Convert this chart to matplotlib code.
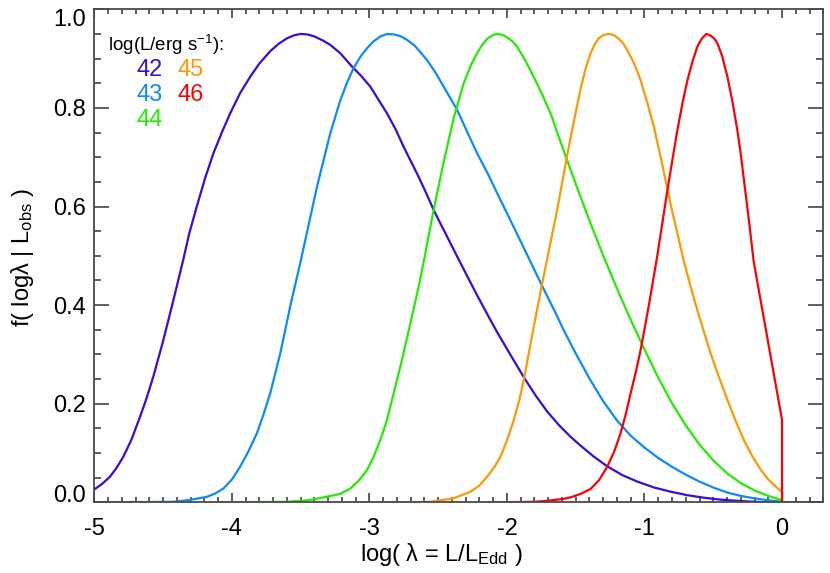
import matplotlib
matplotlib.use("Agg")
import matplotlib.pyplot as plt

plt.rcParams['font.family'] = ['Liberation Sans', 'DejaVu Sans']
plt.rcParams['mathtext.fontset'] = 'custom'
plt.rcParams['mathtext.rm'] = 'Liberation Sans'
plt.rcParams['mathtext.it'] = 'Liberation Sans:italic'
plt.rcParams['axes.unicode_minus'] = False

# log(L/erg s^-1) values of the curves
lum_labels = ['42', '43', '44', '45', '46']
colors = ['#3a0ade', '#0a8cff', '#22ee00', '#ff9900', '#ff0000']

# curves: x = log(lambda), y = f(log lambda | L_obs)
x42 = [-5.0, -4.94, -4.886, -4.84, -4.789, -4.73, -4.667, -4.62, -4.571, -4.498,
       -4.425, -4.355, -4.31, -4.255, -4.195, -4.134, -4.07, -4.012, -3.94, -3.867,
       -3.80, -3.721, -3.66, -3.60, -3.55, -3.50, -3.45, -3.40, -3.34, -3.285,
       -3.212, -3.127, -3.06, -2.993, -2.872, -2.81, -2.751, -2.654, -2.59, -2.533,
       -2.49, -2.435, -2.35, -2.28, -2.217, -2.14, -2.071, -1.97, -1.878, -1.79,
       -1.707, -1.62, -1.538, -1.465, -1.37, -1.271, -1.16, -1.052, -0.93, -0.810,
       -0.69, -0.568, -0.45, -0.325, -0.2, -0.106]
y42 = [0.026, 0.038, 0.052, 0.069, 0.0925, 0.127, 0.174, 0.211, 0.255, 0.329,
       0.410, 0.490, 0.545, 0.600, 0.657, 0.708, 0.752, 0.789, 0.830, 0.863,
       0.890, 0.915, 0.930, 0.941, 0.947, 0.950, 0.949, 0.945, 0.937, 0.928,
       0.911, 0.884, 0.865, 0.843, 0.789, 0.757, 0.721, 0.667, 0.629, 0.593,
       0.569, 0.539, 0.492, 0.454, 0.420, 0.380, 0.345, 0.297, 0.254, 0.216,
       0.184, 0.156, 0.133, 0.115, 0.093, 0.073, 0.055, 0.042, 0.030, 0.0215,
       0.0145, 0.0093, 0.0055, 0.003, 0.001, 0.0]

x43 = [-5.0, -4.425, -4.303, -4.182, -4.12, -4.061, -4.00, -3.940, -3.88, -3.818,
       -3.77, -3.721, -3.648, -3.576, -3.503, -3.44, -3.381, -3.285, -3.212, -3.16,
       -3.115, -3.06, -3.017, -2.97, -2.92, -2.872, -2.82, -2.77, -2.726, -2.67,
       -2.62, -2.581, -2.52, -2.460, -2.362, -2.29, -2.217, -2.14, -2.071, -1.950,
       -1.829, -1.732, -1.65, -1.587, -1.50, -1.40, -1.30, -1.20, -1.10, -1.00,
       -0.90, -0.80, -0.70, -0.60, -0.50, -0.40, -0.30, -0.20, -0.10, 0.0]
y43 = [0.0, 0.001, 0.005, 0.011, 0.018, 0.028, 0.046, 0.072, 0.103, 0.140,
       0.178, 0.221, 0.302, 0.397, 0.485, 0.565, 0.640, 0.748, 0.815, 0.853,
       0.881, 0.906, 0.921, 0.935, 0.945, 0.950, 0.949, 0.945, 0.938, 0.926,
       0.910, 0.897, 0.872, 0.843, 0.796, 0.752, 0.708, 0.667, 0.627, 0.558,
       0.488, 0.432, 0.386, 0.349, 0.302, 0.251, 0.205, 0.166, 0.135, 0.111,
       0.090, 0.072, 0.056, 0.042, 0.030, 0.020, 0.013, 0.008, 0.004, 0.001]

x44 = [-4.1, -3.6, -3.45, -3.333, -3.212, -3.139, -3.08, -3.017, -2.97, -2.921,
       -2.88, -2.848, -2.775, -2.702, -2.642, -2.599, -2.533, -2.460, -2.387, -2.314,
       -2.26, -2.217, -2.18, -2.14, -2.10, -2.071, -2.03, -2.00, -1.96, -1.926,
       -1.87, -1.805, -1.74, -1.683, -1.60, -1.50, -1.40, -1.30, -1.20, -1.10,
       -1.00, -0.90, -0.80, -0.70, -0.60, -0.50, -0.40, -0.30, -0.20, -0.10,
       0.0]
y44 = [0.0, 0.001, 0.004, 0.010, 0.017, 0.028, 0.043, 0.0655, 0.092, 0.126,
       0.160, 0.194, 0.275, 0.363, 0.437, 0.497, 0.593, 0.690, 0.780, 0.850,
       0.888, 0.911, 0.928, 0.941, 0.948, 0.950, 0.948, 0.943, 0.935, 0.924,
       0.898, 0.863, 0.825, 0.789, 0.723, 0.646, 0.5715, 0.5005, 0.4335, 0.370,
       0.310, 0.253, 0.201, 0.156, 0.117, 0.085, 0.059, 0.039, 0.024, 0.013,
       0.004]

x45 = [-3.1, -2.7, -2.557, -2.387, -2.266, -2.20, -2.144, -2.09, -2.047, -2.00,
       -1.950, -1.91, -1.878, -1.805, -1.744, -1.707, -1.635, -1.562, -1.538, -1.465,
       -1.43, -1.392, -1.36, -1.33, -1.295, -1.259, -1.225, -1.19, -1.155, -1.125,
       -1.075, -1.028, -0.98, -0.932, -0.88, -0.834, -0.80, -0.761, -0.713, -0.665,
       -0.616, -0.567, -0.519, -0.46, -0.397, -0.337, -0.277, -0.215, -0.155, -0.105,
       -0.058, -0.025, 0.0, 0.0]
y45 = [0.0, 0.0, 0.001, 0.008, 0.0215, 0.034, 0.052, 0.072, 0.0925, 0.125,
       0.167, 0.207, 0.248, 0.356, 0.444, 0.494, 0.593, 0.704, 0.739, 0.838,
       0.878, 0.911, 0.930, 0.942, 0.948, 0.950, 0.948, 0.941, 0.931, 0.917,
       0.890, 0.856, 0.811, 0.762, 0.697, 0.636, 0.592, 0.546, 0.488, 0.438,
       0.390, 0.345, 0.302, 0.255, 0.2075, 0.165, 0.126, 0.093, 0.066, 0.048,
       0.035, 0.027, 0.0215, 0.0]

x46 = [-2.1, -1.8, -1.707, -1.587, -1.538, -1.465, -1.392, -1.33, -1.271, -1.22,
       -1.174, -1.135, -1.101, -1.06, -1.028, -0.968, -0.907, -0.834, -0.761, -0.72,
       -0.688, -0.65, -0.616, -0.585, -0.550, -0.515, -0.49, -0.470, -0.435, -0.397,
       -0.36, -0.325, -0.30, -0.277, -0.24, -0.206, 0.0, 0.0, 0.3]
y46 = [0.0, 0.001, 0.003, 0.007, 0.010, 0.017, 0.027, 0.045, 0.072, 0.103,
       0.140, 0.180, 0.221, 0.268, 0.309, 0.400, 0.500, 0.632, 0.755, 0.815,
       0.856, 0.895, 0.924, 0.940, 0.950, 0.946, 0.940, 0.931, 0.905, 0.863,
       0.812, 0.755, 0.706, 0.654, 0.570, 0.488, 0.167, 0.0, 0.0]

xs = [x42, x43, x44, x45, x46]
ys = [y42, y43, y44, y45, y46]

fig = plt.figure(figsize=(8.3, 5.73), dpi=100)
ax = fig.add_axes([94.3 / 830, 1 - 502.3 / 573, 729 / 830, 493 / 573])

for i in range(len(xs)):
    ax.plot(xs[i], ys[i], color=colors[i], lw=1.6, solid_joinstyle='round',
            solid_capstyle='butt')

ax.set_xlim(-5, 0.3)
ax.set_ylim(0, 1)
ax.set_xticks([-5, -4, -3, -2, -1, 0])
ax.set_xticks([v / 10 for v in range(-50, 4)], minor=True)
ax.set_yticks([0.0, 0.2, 0.4, 0.6, 0.8, 1.0])
ax.set_yticklabels(['0.0', '0.2', '0.4', '0.6', '0.8', '1.0'])
ax.set_yticks([v / 20 for v in range(0, 21)], minor=True)

# like the original, the end labels of the y axis sit inside the frame
ylabs = ax.get_yticklabels()
ylabs[0].set_va('baseline')
ylabs[-1].set_va('top')

for s in ax.spines.values():
    s.set_color('#4a4a4a')
    s.set_linewidth(1.3)

ax.tick_params(which='both', direction='in', top=True, right=True, bottom=True, left=True,
               colors='#333333', labelsize=17, labelcolor='black')
ax.tick_params(axis='x', which='major', length=6.8, width=1.1, pad=11)
ax.tick_params(axis='x', which='minor', length=3.3, width=1.1)
ax.tick_params(axis='y', which='major', length=10.5, width=1.1, pad=6)
ax.tick_params(axis='y', which='minor', length=5.0, width=1.1)

fig.text(441 / 830, 1 - 554 / 573, 'log( λ = L/L$_{\\mathrm{Edd}}$ )', fontsize=17,
         ha='center', va='center')
fig.text(22 / 830, 1 - 257 / 573, 'f( logλ | L$_{\\mathrm{obs}}$ )', fontsize=17,
         ha='center', va='center', rotation=90)

# legend block, top left
fig.text(108 / 830, 1 - 45 / 573, 'log(L/erg s$^{\\mathrm{-1}}$):', fontsize=13.5,
         ha='left', va='center')
leg_pos = [(136.5, 70), (136.5, 95), (136.5, 119.5), (177, 70), (177, 95)]
for i in range(len(lum_labels)):
    px, py = leg_pos[i]
    fig.text(px / 830, 1 - py / 573, lum_labels[i], fontsize=17, color=colors[i],
             ha='left', va='center')

fig.savefig('out.png', dpi=100)
